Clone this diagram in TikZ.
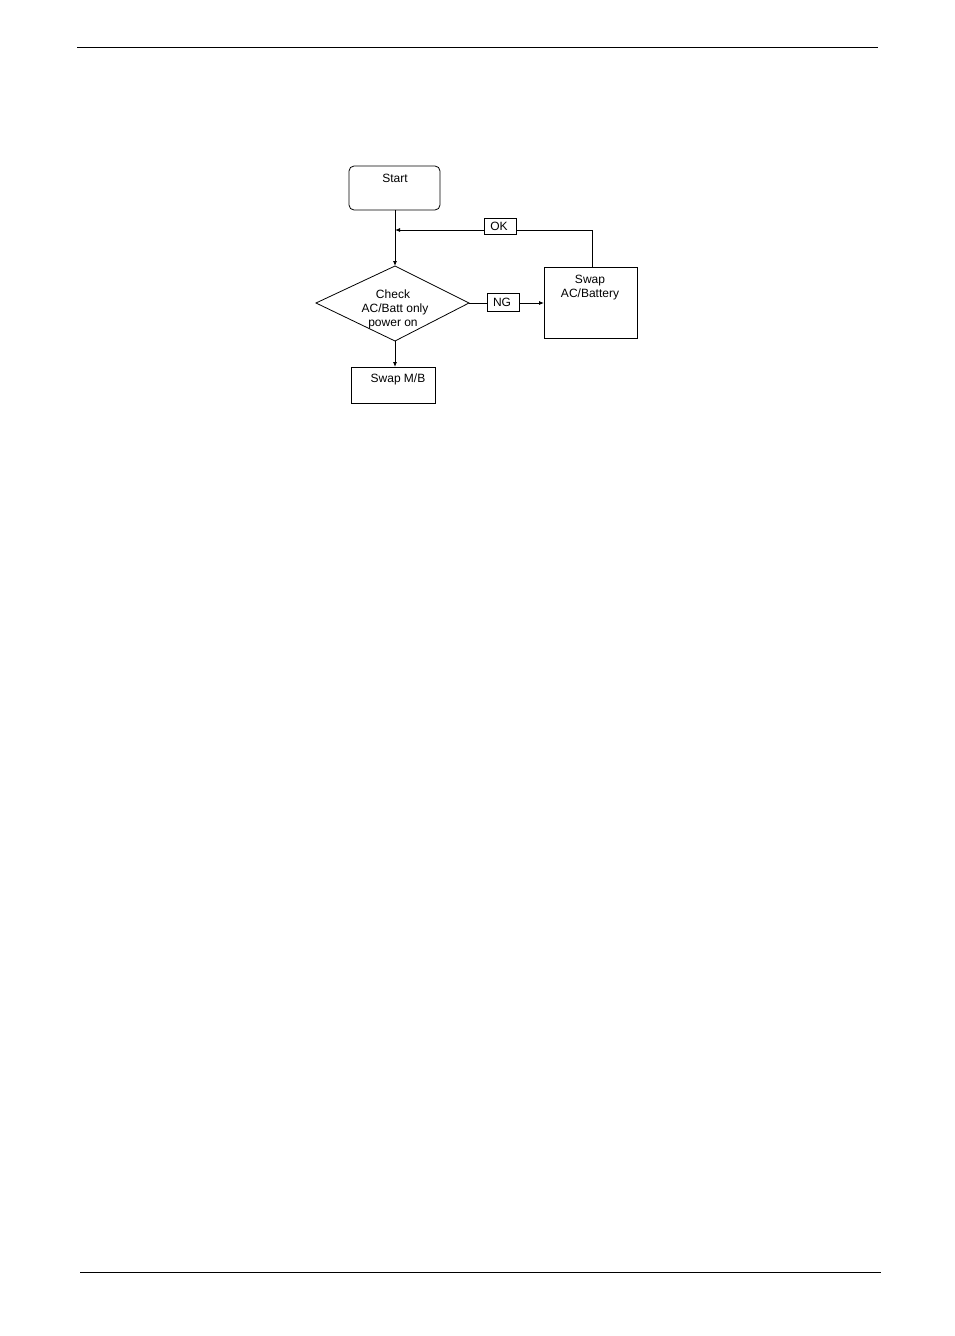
\documentclass[tikz,border=0pt]{standalone}
\usepackage{fontspec}
\setmainfont{Liberation Sans}
\usetikzlibrary{arrows.meta,shapes.geometric}
\begin{document}
\begin{tikzpicture}[x=1pt,y=-1pt,
  box/.style={draw,line width=0.8pt,inner sep=0pt},
  lbl/.style={font=\fontsize{12}{14}\selectfont,inner sep=0pt,anchor=base},
  conn/.style={line width=0.8pt},
  arr/.style={conn,-{Latex[length=5pt,width=4pt]}}]
\useasboundingbox (0,0) rectangle (954,1336);
% page rules
\draw[line width=1pt] (77,47) -- (878,47);
\draw[line width=1pt] (80,1272) -- (881,1272);
% Start
\draw[box,rounded corners=5pt] (349,166) rectangle (440,210);
\coordinate (startb) at (395,210);
\node[lbl] (tstart) at (395,182) {Start};
% decision
\coordinate (dtop) at (395,266);
\coordinate (dbot) at (395,341);
\coordinate (dright) at (469,303);
\draw[box] (dtop) -- (dright) -- (dbot) -- (316,303) -- cycle;
\node[lbl] (t1) at (393,298) {Check};
\node[lbl] (t2) at (395,312) {AC/Batt only};
\node[lbl] (t3) at (393,326) {power on};
% swap AC/Battery
\draw[box] (544,267) rectangle (637,338);
\coordinate (swl) at (544,303);
\coordinate (swt) at (592,267);
\node[lbl] (s1) at (590,283) {Swap};
\node[lbl] (s2) at (590,297) {AC/Battery};
% swap M/B
\draw[box] (351,367) rectangle (435,403);
\coordinate (mbt) at (395,367);
\node[lbl] (m1) at (398,382) {Swap M/B};
% connectors
\draw[arr] (startb) -- (dtop);
\draw[arr] (dbot) -- (mbt);
\coordinate (okc) at (592,230);
\coordinate (okend) at (395,230);
\draw[arr] (swt) -- (okc) -- (okend);
\draw[arr] (dright) -- (swl);
% labels on connectors
\node[box,fill=white,minimum width=32pt,minimum height=16pt] (ok) at (500,226) {};
\node[lbl] (okt) at (499,230.5) {OK};
\node[box,fill=white,minimum width=32pt,minimum height=18pt] (ng) at (503,302) {};
\node[lbl] (ngt) at (502,306.5) {NG};
\end{tikzpicture}
\end{document}
